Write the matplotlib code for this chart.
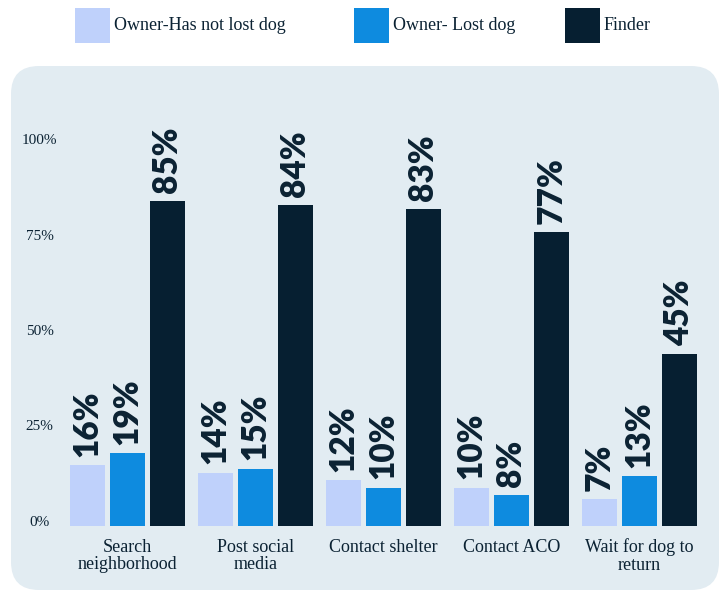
import numpy as np
import matplotlib
matplotlib.use("Agg")
import matplotlib.pyplot as plt
from matplotlib.patches import FancyBboxPatch, Rectangle
from matplotlib.transforms import IdentityTransform

# survey: share of respondents who would take each action
actions = ["Search\nneighborhood", "Post social\nmedia", "Contact shelter",
           "Contact ACO", "Wait for dog to\nreturn"]
groups = ["Owner-Has not lost dog", "Owner- Lost dog", "Finder"]
never_lost = [16, 14, 12, 10, 7]
lost_dog = [19, 15, 10, 8, 13]
finder = [85, 84, 83, 77, 45]
y_ticks = [0, 25, 50, 75, 100]

colors = ["#BFD1FB", "#0E8BDF", "#061F31"]
text_color = "#0B2233"
panel_color = "#E2ECF2"
serif = "Liberation Serif"

W, H = 726, 593
fig = plt.figure(figsize=(W / 100, H / 100), dpi=100)
fig.patch.set_facecolor("white")

# rounded light panel behind the plot (pixel coordinates)
panel = FancyBboxPatch((11, 3), 708, 524, boxstyle="round,pad=0,rounding_size=28",
                       transform=IdentityTransform(), facecolor=panel_color,
                       edgecolor="none", zorder=-5)
fig.patches.append(panel)

# legend row across the top
legend_x = [75, 354, 565]
for x0, label, c in zip(legend_x, groups, colors):
    fig.patches.append(Rectangle((x0 / W, 1 - 43 / H), 35 / W, 35 / H,
                                 transform=fig.transFigure, facecolor=c,
                                 edgecolor="none"))
    fig.text((x0 + 39) / W, 1 - 26 / H, label, fontsize=13, family=serif,
             color=text_color, ha="left", va="center")

# plot area: baseline at 526px from the top, 100% at 144px
left, right, base, top = 62, 712, 526, 70
ax = fig.add_axes([left / W, (H - base) / H, (right - left) / W, (base - top) / H])
ax.set_facecolor("none")
px_per_pct = 3.82
ax.set_ylim(0, (base - top) / px_per_pct)
group_px = 128
ax.set_xlim((left - 127.5) / group_px, (right - 127.5) / group_px)

x = np.arange(len(actions))
width = 35 / group_px
step = 40 / group_px
for k, (vals, c) in enumerate(zip([never_lost, lost_dog, finder], colors)):
    bars = ax.bar(x + (k - 1) * step, vals, width=width, color=c, zorder=2)
    for b, v in zip(bars, vals):
        ax.annotate(f"{v}%", (b.get_x() + b.get_width() / 2, v),
                    xytext=(0, 6), textcoords="offset points", rotation=90,
                    ha="center", va="bottom", fontsize=24, fontweight=800,
                    family="Lato", color=text_color, clip_on=False)

ax.set_yticks(y_ticks)
ax.set_yticklabels([f"{t}%" for t in y_ticks], fontsize=11, family=serif,
                   color=text_color, ha="center", va="baseline")
ax.tick_params(axis="y", length=0, pad=16)
ax.set_xticks(x)
ax.set_xticklabels(actions, fontsize=13, family=serif, color=text_color,
                   linespacing=1.05)
ax.tick_params(axis="x", length=0, pad=9)
for s in ax.spines.values():
    s.set_visible(False)

fig.savefig("out.png", dpi=100, facecolor="white")
